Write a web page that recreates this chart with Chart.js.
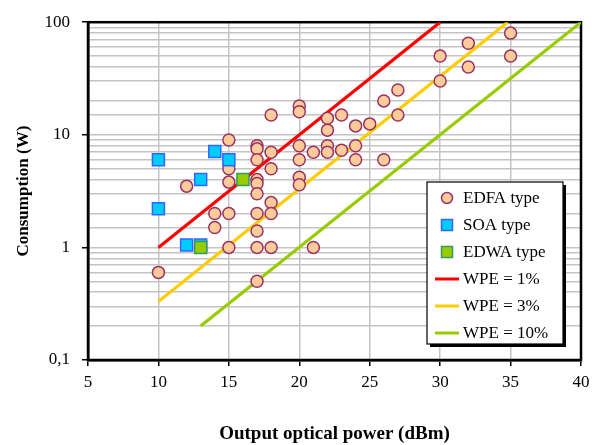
<!DOCTYPE html>
<html>
<head>
<meta charset="utf-8">
<script src="https://cdn.jsdelivr.net/npm/chart.js@4/dist/chart.umd.min.js"></script>
<style>
  html, body { margin: 0; padding: 0; background: #fff; }
  canvas { display: block; }
</style>
</head>
<body>
<canvas id="graphique" width="597" height="445"></canvas>
<script>
// valeurs
const edfaPower = [10, 12, 14, 14, 15, 15, 15, 15, 15,
  17, 17, 17, 17, 17, 17, 17, 17, 17, 17,
  18, 18, 18, 18, 18, 18,
  20, 20, 20, 20, 20, 20,
  21, 21, 22, 22, 22, 22, 23, 23, 24, 24, 24, 25,
  26, 26, 27, 27, 30, 30, 32, 32, 35, 35];
const edfaConsumption = [0.6, 3.5, 2, 1.5, 9, 5, 3.8, 2, 1,
  8, 7.5, 6, 4, 3.7, 3, 2, 1.4, 1, 0.5,
  15, 7, 5, 2.5, 2, 1,
  18, 16, 8, 6, 4.2, 3.6,
  7, 1, 14, 11, 8, 7, 15, 7.3, 12, 8, 6, 12.5,
  20, 6, 25, 15, 50, 30, 65, 40, 80, 50];

const soaPower = [10, 10, 12, 13, 13, 14, 15];
const soaConsumption = [6, 2.2, 1.05, 4, 1.05, 7.1, 6];

const edwaPower = [13, 16];
const edwaConsumption = [1, 4];

const wpe1Power = [10, 30];
const wpe1Consumption = [1, 100];
const wpe3Power = [10, 34.8];
const wpe3Consumption = [0.33, 100];
const wpe10Power = [13, 40];
const wpe10Consumption = [0.2, 100];

const xTicks = [5, 10, 15, 20, 25, 30, 35, 40];
const yTickLabels = ['0,1', '1', '10', '100']; // 10^-1 .. 10^2

const points = (xs, ys) => xs.map((x, i) => ({ x: x, y: ys[i] }));
const estMajeur = v => Math.abs(Math.log10(v) - Math.round(Math.log10(v))) < 1e-9;

const police = 'Liberation Serif, Times New Roman, serif';

// cadre noir autour de la zone du graphique
const cadre = {
  id: 'cadre',
  beforeDatasetsDraw(chart) {
    const { ctx, chartArea: a } = chart;
    ctx.save();
    ctx.strokeStyle = '#000';
    ctx.lineWidth = 2.5;
    ctx.strokeRect(a.left, a.top, a.right - a.left, a.bottom - a.top);
    ctx.restore();
  }
};

// légende dessinée à la main dans la zone du graphique
const legende = {
  id: 'legende',
  afterDraw(chart) {
    const ctx = chart.ctx;
    const bx = 427, by = 182, bw = 136, bh = 162;
    ctx.save();
    ctx.fillStyle = '#000';
    ctx.fillRect(bx + 3, by + 3, bw, bh);
    ctx.fillStyle = '#fff';
    ctx.fillRect(bx, by, bw, bh);
    ctx.strokeStyle = '#000';
    ctx.lineWidth = 1.2;
    ctx.strokeRect(bx, by, bw, bh);

    ctx.font = '17px ' + police;
    ctx.textBaseline = 'middle';
    ctx.textAlign = 'left';
    chart.data.datasets.forEach((ds, i) => {
      const cy = by + 16 + i * 27;
      const cx = 447;
      if (ds.type === 'line') {
        ctx.strokeStyle = ds.borderColor;
        ctx.lineWidth = 3;
        ctx.beginPath();
        ctx.moveTo(435, cy);
        ctx.lineTo(459, cy);
        ctx.stroke();
      } else if (ds.pointStyle === 'circle') {
        ctx.fillStyle = ds.backgroundColor;
        ctx.strokeStyle = ds.borderColor;
        ctx.lineWidth = 1.5;
        ctx.beginPath();
        ctx.arc(cx, cy, 5.5, 0, Math.PI * 2);
        ctx.fill();
        ctx.stroke();
      } else {
        ctx.fillStyle = ds.backgroundColor;
        ctx.strokeStyle = ds.borderColor;
        ctx.lineWidth = 1.5;
        ctx.fillRect(cx - 5.5, cy - 5.5, 11, 11);
        ctx.strokeRect(cx - 5.5, cy - 5.5, 11, 11);
      }
      ctx.fillStyle = '#000';
      ctx.fillText(ds.label, 463, cy + 1);
    });
    ctx.restore();
  }
};

const ctx = document.getElementById('graphique').getContext('2d');

new Chart(ctx, {
  data: {
    datasets: [
      {
        type: 'scatter', label: 'EDFA type', order: 2,
        data: points(edfaPower, edfaConsumption),
        pointStyle: 'circle', pointRadius: 6, pointBorderWidth: 1.5,
        backgroundColor: '#FFCC99', borderColor: '#993366'
      },
      {
        type: 'scatter', label: 'SOA type', order: 1,
        data: points(soaPower, soaConsumption),
        pointStyle: 'rect', pointRadius: 8.5, pointBorderWidth: 1.5,
        backgroundColor: '#00CCFF', borderColor: '#3366FF'
      },
      {
        type: 'scatter', label: 'EDWA type', order: 0,
        data: points(edwaPower, edwaConsumption),
        pointStyle: 'rect', pointRadius: 8.5, pointBorderWidth: 1.5,
        backgroundColor: '#99CC00', borderColor: '#339966'
      },
      {
        type: 'line', label: 'WPE = 1%', order: 3,
        data: points(wpe1Power, wpe1Consumption),
        borderColor: '#FF0000', borderWidth: 3.2, pointRadius: 0, fill: false
      },
      {
        type: 'line', label: 'WPE = 3%', order: 3,
        data: points(wpe3Power, wpe3Consumption),
        borderColor: '#FFCC00', borderWidth: 3.2, pointRadius: 0, fill: false
      },
      {
        type: 'line', label: 'WPE = 10%', order: 3,
        data: points(wpe10Power, wpe10Consumption),
        borderColor: '#99CC00', borderWidth: 3.2, pointRadius: 0, fill: false
      }
    ]
  },
  options: {
    responsive: false,
    animation: false,
    devicePixelRatio: 1,
    layout: { padding: { top: 19, right: 16, left: 0, bottom: 0 } },
    plugins: {
      legend: { display: false },
      tooltip: { enabled: false }
    },
    scales: {
      x: {
        type: 'linear',
        position: 'bottom',
        min: 5,
        max: 40,
        afterBuildTicks: scale => { scale.ticks = xTicks.map(v => ({ value: v })); },
        afterFit: scale => { scale.height = 85; },
        ticks: {
          color: '#000',
          font: { family: police, size: 17 },
          padding: 6,
          maxRotation: 0
        },
        grid: {
          color: '#c4c4c4',
          lineWidth: 1.5,
          tickLength: 6,
          tickColor: '#000',
          tickWidth: 1.5
        },
        border: { color: '#000', width: 2.5 },
        title: {
          display: true,
          text: 'Output optical power (dBm)',
          color: '#000',
          font: { family: police, size: 19, weight: 'bold' },
          padding: { top: 0, bottom: 0 }
        }
      },
      y: {
        type: 'logarithmic',
        position: 'left',
        min: 0.1,
        max: 100,
        afterFit: scale => { scale.width = 88; },
        ticks: {
          autoSkip: false,
          color: '#000',
          font: { family: police, size: 17 },
          padding: 12,
          callback: v => estMajeur(v) ? yTickLabels[Math.round(Math.log10(v)) + 1] : ''
        },
        grid: {
          color: '#c4c4c4',
          lineWidth: 1.5,
          tickLength: 6,
          tickWidth: 1.5,
          tickColor: c => (c.tick && estMajeur(c.tick.value)) ? '#000' : 'rgba(0,0,0,0)'
        },
        border: { color: '#000', width: 2.5 },
        title: {
          display: true,
          text: 'Consumption (W)',
          color: '#000',
          font: { family: police, size: 17, weight: 'bold' },
          padding: { top: 13, bottom: 0 }
        }
      }
    }
  },
  plugins: [cadre, legende]
});
</script>
</body>
</html>
